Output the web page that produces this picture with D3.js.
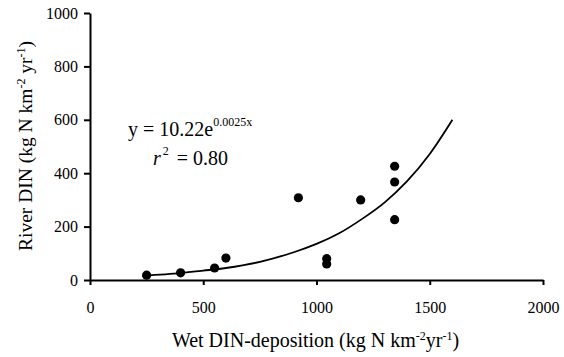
<!DOCTYPE html>
<html>
<head>
    <meta charset="utf-8">
    <script src="https://d3js.org/d3.v7.min.js"></script>
    <style>
        body { margin: 0; background: #fff; }
        svg text { font-family: "Liberation Serif", "Times New Roman", Times, "DejaVu Serif", serif; fill: #000; }
    </style>
</head>
<body>
    <script>
        // scatter points (wet deposition, river DIN)
        var depX = [250, 400, 550, 600, 920, 1045, 1045, 1195, 1345, 1345, 1345];
        var dinY = [18, 27, 45, 82, 308, 80, 60, 300, 426, 367, 226];

        // fitted curve
        var fitX = [230, 400, 500, 600, 750, 900, 1000, 1100, 1200, 1300, 1400, 1500, 1600];
        var fitY = [16, 26, 35, 45, 68, 104, 135, 175, 228, 290, 370, 472, 600];

        var xTicks = [0, 500, 1000, 1500, 2000];
        var yTicks = [0, 200, 400, 600, 800, 1000];

        var width = 564, height = 357;
        var margin = { top: 13, right: 21, bottom: 77, left: 90 };
        var serif = "'Liberation Serif', 'Times New Roman', Times, 'DejaVu Serif', serif";

        var svg = d3.select("body").append("svg")
            .attr("width", width)
            .attr("height", height)
            .attr("font-family", serif);

        var x = d3.scaleLinear().domain([0, 2000]).range([margin.left, width - margin.right]);
        var y = d3.scaleLinear().domain([0, 1000]).range([height - margin.bottom, margin.top]);

        var xAxis = svg.append("g")
            .attr("transform", "translate(0," + y(0) + ")")
            .call(d3.axisBottom(x).tickValues(xTicks).tickFormat(d3.format("d"))
                .tickSize(5).tickSizeOuter(0).tickPadding(17));
        var yAxis = svg.append("g")
            .attr("transform", "translate(" + x(0) + ",0)")
            .call(d3.axisLeft(y).tickValues(yTicks).tickFormat(d3.format("d"))
                .tickSize(6).tickSizeOuter(0).tickPadding(6));

        [xAxis, yAxis].forEach(function (g) {
            g.attr("font-family", serif).attr("font-size", 16);
            g.select(".domain").attr("stroke", "#000").attr("stroke-width", 2);
            g.selectAll(".tick line").attr("stroke", "#000").attr("stroke-width", 2);
            g.selectAll(".tick text").attr("fill", "#000");
        });

        // fitted curve
        var pts = fitX.map(function (d, i) { return [d, fitY[i]]; });
        svg.append("path")
            .datum(pts)
            .attr("fill", "none")
            .attr("stroke", "#000")
            .attr("stroke-width", 1.8)
            .attr("d", d3.line()
                .x(function (d) { return x(d[0]); })
                .y(function (d) { return y(d[1]); })
                .curve(d3.curveCatmullRom));

        // points
        svg.selectAll("circle.pt")
            .data(depX)
            .enter().append("circle")
            .attr("class", "pt")
            .attr("cx", function (d) { return x(d); })
            .attr("cy", function (d, i) { return y(dinY[i]); })
            .attr("r", 4.6)
            .attr("fill", "#000");

        // equation
        var eq = svg.append("text")
            .attr("x", 128)
            .attr("y", 136)
            .style("font-size", "20px");
        eq.append("tspan").text("y = 10.22e");
        eq.append("tspan").attr("dy", -10).style("font-size", "12px").text("0.0025x");

        var r2 = svg.append("text")
            .attr("x", 153)
            .attr("y", 165)
            .style("font-size", "20px");
        r2.append("tspan").style("font-style", "italic").text("r");
        r2.append("tspan").attr("dy", -10).attr("dx", 2).style("font-size", "12px").text("2");
        r2.append("tspan").attr("dy", 10).attr("dx", 8).text("= 0.80");

        // axis titles
        var xt = svg.append("text")
            .attr("x", x(1000) - 1)
            .attr("y", 347)
            .attr("text-anchor", "middle")
            .style("font-size", "20px");
        xt.append("tspan").text("Wet DIN-deposition (kg N km");
        xt.append("tspan").attr("dy", -7).style("font-size", "12px").text("-2");
        xt.append("tspan").attr("dy", 7).text("yr");
        xt.append("tspan").attr("dy", -7).style("font-size", "12px").text("-1");
        xt.append("tspan").attr("dy", 7).text(")");

        var yt = svg.append("text")
            .attr("transform", "translate(32,146) rotate(-90)")
            .attr("text-anchor", "middle")
            .style("font-size", "19.5px");
        yt.append("tspan").text("River DIN (kg N km");
        yt.append("tspan").attr("dy", -7).style("font-size", "12px").text("-2");
        yt.append("tspan").attr("dy", 7).text(" yr");
        yt.append("tspan").attr("dy", -7).style("font-size", "12px").text("-1");
        yt.append("tspan").attr("dy", 7).text(")");
    </script>
</body>
</html>
